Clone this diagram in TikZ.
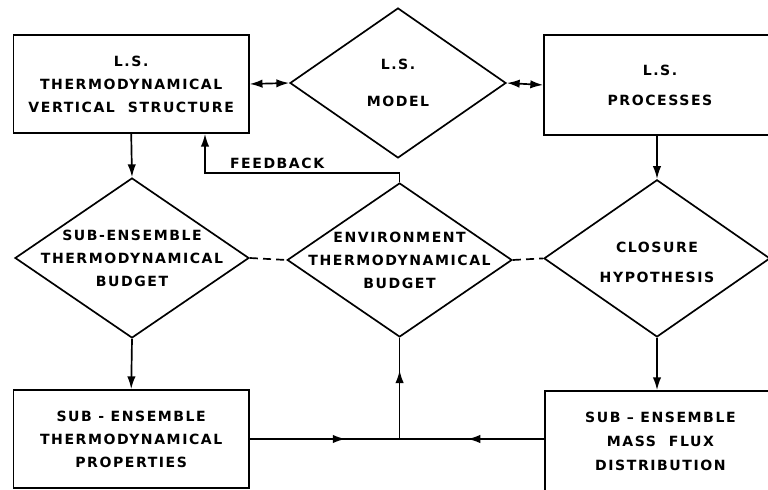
\documentclass[tikz,border=0pt]{standalone}
\usepackage{fontspec}
\usepackage{tikz}
\usetikzlibrary{shapes.geometric,arrows.meta,positioning,decorations.markings,calc}

\newfontfamily\letterfont{DejaVu Sans Bold}[LetterSpace=11]

\begin{document}
\begin{tikzpicture}[
  box/.style={rectangle, draw, line width=1.2pt, align=center, inner sep=0pt,
    font=\letterfont\fontsize{10}{16.4}\selectfont},
  decision/.style={diamond, draw, line width=1.2pt, inner sep=0pt},
  lbl/.style={align=center, inner sep=0pt, font=\letterfont\fontsize{10}{16.4}\selectfont},
  wire/.style={-{Latex[length=3.2mm, width=2.1mm]}, line width=1.2pt},
  link/.style={{Latex[length=3.2mm, width=2.1mm]}-{Latex[length=3.2mm, width=2.1mm]}, line width=1.2pt},
  couple/.style={dash pattern=on 2mm off 1.3mm, line width=1.2pt},
  midarrow/.style={line width=1.2pt, postaction={decorate},
    decoration={markings, mark=at position #1 with {\arrow{Latex[length=3.2mm, width=2.1mm]}}}}
]
\useasboundingbox (0,0) rectangle (19.2,12.25);

% Top row
\node[box, minimum width=5.88cm, minimum height=2.45cm] (lsstruct) at (3.28, 10.15)
  {L.S.\\THERMODYNAMICAL\\VERTICAL\ \ STRUCTURE};
\node[decision, minimum width=5.4cm, minimum height=3.75cm] (lsmodel) at (9.95, 10.175) {};
\node[lbl] (lsmodeltxt) at (lsmodel.center) {L.S.\\[10pt]MODEL};
\node[box, minimum width=5.8cm, minimum height=2.5cm] (lsproc) at (16.5, 10.125)
  {L.S.\\[5pt]PROCESSES};

% Middle row
\node[decision, minimum width=5.85cm, minimum height=4.0cm] (subbudget) at (3.3, 5.8) {};
\node[lbl] (subbudgettxt) at (subbudget.center) {SUB-ENSEMBLE\\THERMODYNAMICAL\\BUDGET};
\node[decision, minimum width=5.62cm, minimum height=3.85cm] (envbudget) at (9.99, 5.75) {};
\node[lbl] (envbudgettxt) at (envbudget.center) {ENVIRONMENT\\THERMODYNAMICAL\\BUDGET};
\node[decision, minimum width=5.65cm, minimum height=3.93cm] (closure) at (16.425, 5.79) {};
\node[lbl] (closuretxt) at ($(closure.center)+(0,-0.1)$) {CLOSURE\\[5.5pt]HYPOTHESIS};

% Bottom row
\node[box, minimum width=5.88cm, minimum height=2.45cm] (subprop) at (3.28, 1.275)
  {SUB - ENSEMBLE\\THERMODYNAMICAL\\PROPERTIES};
\node[box, minimum width=5.78cm, minimum height=2.5cm] (massflux) at (16.51, 1.225)
  {SUB – ENSEMBLE\\[0.6pt]MASS\ \ FLUX\\[0.6pt]DISTRIBUTION};

% Links
\draw[link] (lsstruct.east) -- (lsmodel.west);
\draw[link] (lsmodel.east) -- (lsproc.west);
\draw[wire] (lsstruct.south) -- (subbudget.north);
\draw[wire] (closure.north |- lsproc.south) -- (closure.north);
\draw[wire] (subbudget.south) -- (subprop.north);
\draw[wire] (closure.south) -- (closure.south |- massflux.north);
\draw[couple] (subbudget.east) -- (envbudget.west);
\draw[couple] (envbudget.east) -- (closure.west);

% Feedback
\coordinate (fbcorner) at (5.125, 7.925);
\draw[wire] (envbudget.north) |- (fbcorner) -- (fbcorner |- lsstruct.south);
\node[lbl, above right=3pt and 0.62cm of fbcorner] (fblabel) {FEEDBACK};

% Bottom junction
\coordinate (junc) at (envbudget.south |- subprop.east);
\draw[midarrow=0.64] (subprop.east) -- (junc);
\draw[midarrow=0.53] (massflux.west |- junc) -- (junc);
\draw[midarrow=0.68] (junc) -- (envbudget.south);

\end{tikzpicture}
\end{document}
